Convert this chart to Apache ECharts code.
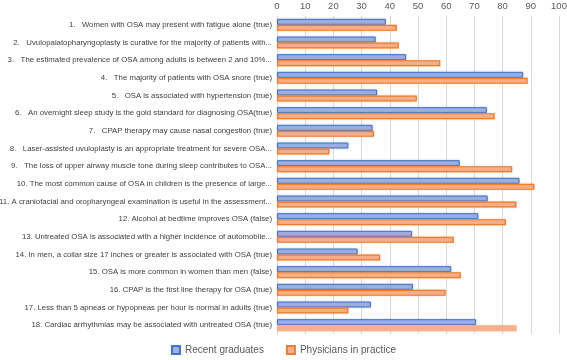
<!DOCTYPE html>
<html>
<head>
<meta charset="utf-8">
<script src="https://cdn.jsdelivr.net/npm/echarts@6/dist/echarts.min.js"></script>
<style>
  html, body { margin: 0; padding: 0; background: #fff; }
  #chart { width: 567px; height: 360px; }
</style>
</head>
<body>
<div id="chart"></div>
<script>
// statements (categories)
const questions = [
  '1.   Women with OSA may present with fatigue alone (true)',
  '2.   Uvulopalatopharyngoplasty is curative for the majority of patients with...',
  '3.   The estimated prevalence of OSA among adults is between 2 and 10%...',
  '4.   The majority of patients with OSA snore (true)',
  '5.   OSA is associated with hypertension (true)',
  '6.   An overnight sleep study is the gold standard for diagnosing OSA(true)',
  '7.   CPAP therapy may cause nasal congestion (true)',
  '8.   Laser-assisted uvuloplasty is an appropriate treatment for severe OSA...',
  '9.   The loss of upper airway muscle tone during sleep contributes to OSA...',
  '10. The most common cause of OSA in children is the presence of large...',
  '11. A craniofacial and oropharyngeal examination is useful in the assessment...',
  '12. Alcohol at bedtime improves OSA (false)',
  '13. Untreated OSA is associated with a higher incidence of automobile...',
  '14. In men, a collar size 17 inches or greater is associated with OSA (true)',
  '15. OSA is more common in women than men (false)',
  '16. CPAP is the first line therapy for OSA (true)',
  '17. Less than 5 apneas or hypopneas per hour is normal in adults (true)',
  '18. Cardiac arrhythmias may be associated with untreated OSA (true)'
];

const seriesNames = ['Recent graduates', 'Physicians in practice'];

const recentGraduates = [38.6, 35.0, 45.8, 87.3, 35.5, 74.4, 33.9, 25.3, 64.8, 86.0, 74.7, 71.4, 47.9, 28.6, 61.8, 48.2, 33.3, 70.6];
const physicians      = [42.5, 43.2, 57.9, 88.9, 49.6, 77.2, 34.4, 18.6, 83.4, 91.3, 84.9, 81.2, 62.7, 36.6, 65.2, 59.8, 25.3, 84.9];

const chart = echarts.init(document.getElementById('chart'));

const labelFont = "'Liberation Sans Narrow', 'Liberation Sans', sans-serif";

// last orange bar is drawn without its outline in the original
let physData = physicians.map((v, i) => {
  if (i === physicians.length - 1) {
    return { value: v, itemStyle: { borderWidth: 0 } };
  }
  return v;
});

const option = {
  animation: false,
  grid: {
    left: 277,
    right: 8,
    top: 16,
    bottom: 26,
    outerBoundsMode: 'none'
  },
  legend: {
    data: seriesNames,
    bottom: 0,
    left: 'center',
    icon: 'rect',
    itemWidth: 8,
    itemHeight: 8,
    itemGap: 22,
    textStyle: { color: '#595959', fontSize: 10, fontFamily: labelFont }
  },
  xAxis: {
    type: 'value',
    position: 'top',
    min: 0,
    max: 100,
    interval: 10,
    axisLine: { show: false },
    axisTick: { show: false },
    axisLabel: { color: '#595959', fontSize: 9.5, margin: 5, fontFamily: labelFont, hideOverlap: false },
    splitLine: { lineStyle: { color: '#d9d9d9', width: 1 } }
  },
  yAxis: {
    type: 'category',
    inverse: true,
    data: questions,
    axisLine: { lineStyle: { color: '#d9d9d9', width: 1 } },
    axisTick: { show: false },
    axisLabel: { color: '#404040', fontSize: 7.8, margin: 5, fontFamily: labelFont }
  },
  series: [
    {
      name: seriesNames[0],
      type: 'bar',
      data: recentGraduates,
      barWidth: 6,
      barGap: '0%',
      itemStyle: {
        color: '#9db0e2',
        borderColor: '#4472c4',
        borderWidth: 1,
        shadowBlur: 2,
        shadowColor: 'rgba(68,114,196,0.35)'
      }
    },
    {
      name: seriesNames[1],
      type: 'bar',
      data: physData,
      barWidth: 6,
      barGap: '0%',
      itemStyle: {
        color: '#f5b08c',
        borderColor: '#ed7d31',
        borderWidth: 1.2,
        shadowBlur: 2,
        shadowColor: 'rgba(237,125,49,0.35)'
      }
    }
  ]
};

chart.setOption(option);
</script>
</body>
</html>
